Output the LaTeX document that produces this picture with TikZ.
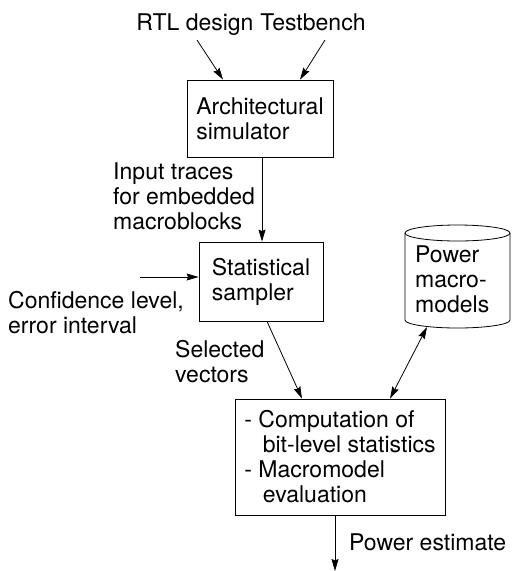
\documentclass[tikz,border=0pt]{standalone}
\usepackage{fontspec}
\setmainfont{TeX Gyre Heros}
\usetikzlibrary{arrows.meta}
\begin{document}
\begin{tikzpicture}[x=1pt,y=-1pt,
  every node/.style={font=\fontsize{23}{25}\selectfont, inner sep=0pt},
  lbl/.style={align=left, anchor=north west},
  blk/.style={draw, line width=0.8pt, align=left},
  tip/.style={Stealth[length=12pt,width=7pt,inset=1.5pt]},
  arr/.style={line width=0.8pt, -{Stealth[length=12pt,width=7pt,inset=1.5pt]}},
  darr/.style={line width=0.8pt, {Stealth[length=12pt,width=7pt,inset=1.5pt]}-{Stealth[length=12pt,width=7pt,inset=1.5pt]}},
]
\useasboundingbox (0,0) rectangle (512,571);

\node[anchor=base] (rtl) at (195,30) {RTL design};
\node[anchor=base] (tb) at (313,30) {Testbench};
\node[blk, minimum width=146pt, minimum height=77pt] (arch) at (260,118.5) {Architectural\\simulator};
\node[blk, minimum width=124pt, minimum height=79pt] (stat) at (261,281.5) {Statistical\\sampler};
\node[blk, minimum width=210pt, minimum height=116pt] (comp) at (340,457) {- Computation of\\\hspace*{0.8em}bit-level statistics\\- Macromodel\\\hspace*{0.8em}evaluation};

\node[lbl] (inp) at (113,163) {Input traces\\for embedded\\macroblocks};
\node[lbl] (conf) at (8,291) {Confidence level,\\error interval};
\node[lbl] (pm) at (415,246) {Power\\macro-\\models};
\node[lbl] (sel) at (175,340) {Selected\\vectors};
\node[anchor=base west] (pe) at (349,550) {Power estimate};

% cylinder
\draw[line width=0.8pt] (405,233) -- (405,320) arc[start angle=180, end angle=360, x radius=52.5pt, y radius=8pt] -- (510,233);
\draw[line width=0.8pt] (457.5,233) ellipse[x radius=52.5pt, y radius=8pt];

\coordinate (rtlout) at (197,40);
\coordinate (tbout) at (325,40);
\coordinate (confin) at (140,277);
\coordinate (pmb) at (427,327);
\coordinate (out) at (335,571);

\draw[arr] (rtlout) -- ([xshift=-37pt]arch.north);
\draw[arr] (tbout) -- ([xshift=40pt]arch.north);
\draw[arr] ([xshift=2pt]arch.south) -- ([xshift=1pt]stat.north);
\draw[arr] (confin) -- (stat.west |- confin);
\draw[arr] ([xshift=6pt]stat.south) -- ([xshift=-38pt]comp.north);
\draw[darr] (pmb) -- ([xshift=50pt]comp.north);
\draw[arr] ([xshift=-5pt]comp.south) -- (out);
\end{tikzpicture}
\end{document}
